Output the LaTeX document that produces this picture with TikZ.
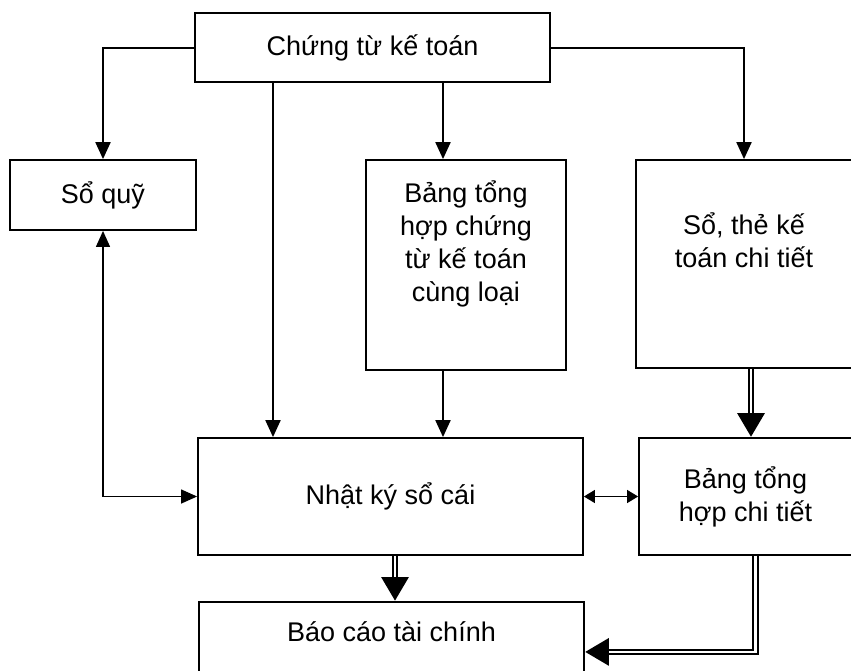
\documentclass[tikz,border=0pt]{standalone}
\usepackage{fontspec}
\setmainfont{Liberation Sans}
\usetikzlibrary{arrows.meta,decorations.markings}
\begin{document}
\begin{tikzpicture}[x=1pt,y=-1pt]
\tikzstyle{every node} = [draw, line width=1.8pt, inner sep=0pt, align=center, font=\fontsize{27}{33}\selectfont]
\tikzstyle{arr} = [line width=2pt, -{Triangle[width=15pt,length=17pt]}]
\tikzstyle{dbl} = [line width=2pt, double distance=2.5pt, shorten >=21pt, postaction={decorate},
  decoration={markings, mark=at position 1 with {\arrow{Triangle[width=26pt,length=24pt]}}}]
\useasboundingbox (0,0) rectangle (851,670);
\clip (0,0) rectangle (851,670);
\node[minimum width=355pt, minimum height=69pt] (chungtu) at (372.5,47.5) {Chứng từ kế toán};
\node[minimum width=186pt, minimum height=70pt] (soquy) at (103,195) {Sổ quỹ};
\node[minimum width=200pt, minimum height=210pt] (bangct) at (466,265) {Bảng tổng\\hợp chứng\\từ kế toán\\cùng loại\\[15pt]\mbox{}};
\node[minimum width=216pt, minimum height=208pt] (sothe) at (744,264) {Sổ, thẻ kế\\toán chi tiết\\[15pt]\mbox{}};
\node[minimum width=385pt, minimum height=117pt] (nhatky) at (390.5,496.5) {Nhật ký sổ cái};
\node[minimum width=213pt, minimum height=117pt] (bangct2) at (745.5,496.5) {Bảng tổng\\hợp chi tiết};
\node[text height=40pt, text depth=60pt, minimum width=385pt, anchor=north] (baocao) at (391.5,601) {Báo cáo tài chính};
% single arrows
\draw[arr] (chungtu.west) -| (soquy.north);
\draw[arr] (chungtu.east) -| (sothe.north);
\draw[arr] ([xshift=-99.5pt]chungtu.south) -- ([xshift=-99.5pt]chungtu.south |- nhatky.north);
\draw[arr] ([xshift=70.5pt]chungtu.south) -- ([xshift=70.5pt]chungtu.south |- bangct.north);
\draw[arr] ([xshift=-23pt]bangct.south) -- ([xshift=-23pt]bangct.south |- nhatky.north);
\draw[line width=1.3pt, {Triangle[width=14pt,length=16pt]}-{Triangle[width=14pt,length=16pt]}] (soquy.south) |- (nhatky.west);
\draw[line width=1.3pt, {Triangle[width=13pt,length=11pt]}-{Triangle[width=13pt,length=11pt]}] (nhatky.east) -- (bangct2.west);
% double arrows
\draw[dbl] ([xshift=7pt]sothe.south) -- ([xshift=7pt]sothe.south |- bangct2.north);
\draw[dbl] ([xshift=4.5pt]nhatky.south) -- ([xshift=4.5pt]nhatky.south |- baocao.north);
\draw[dbl] ([xshift=10pt]bangct2.south) |- (baocao.east);
\end{tikzpicture}
\end{document}
